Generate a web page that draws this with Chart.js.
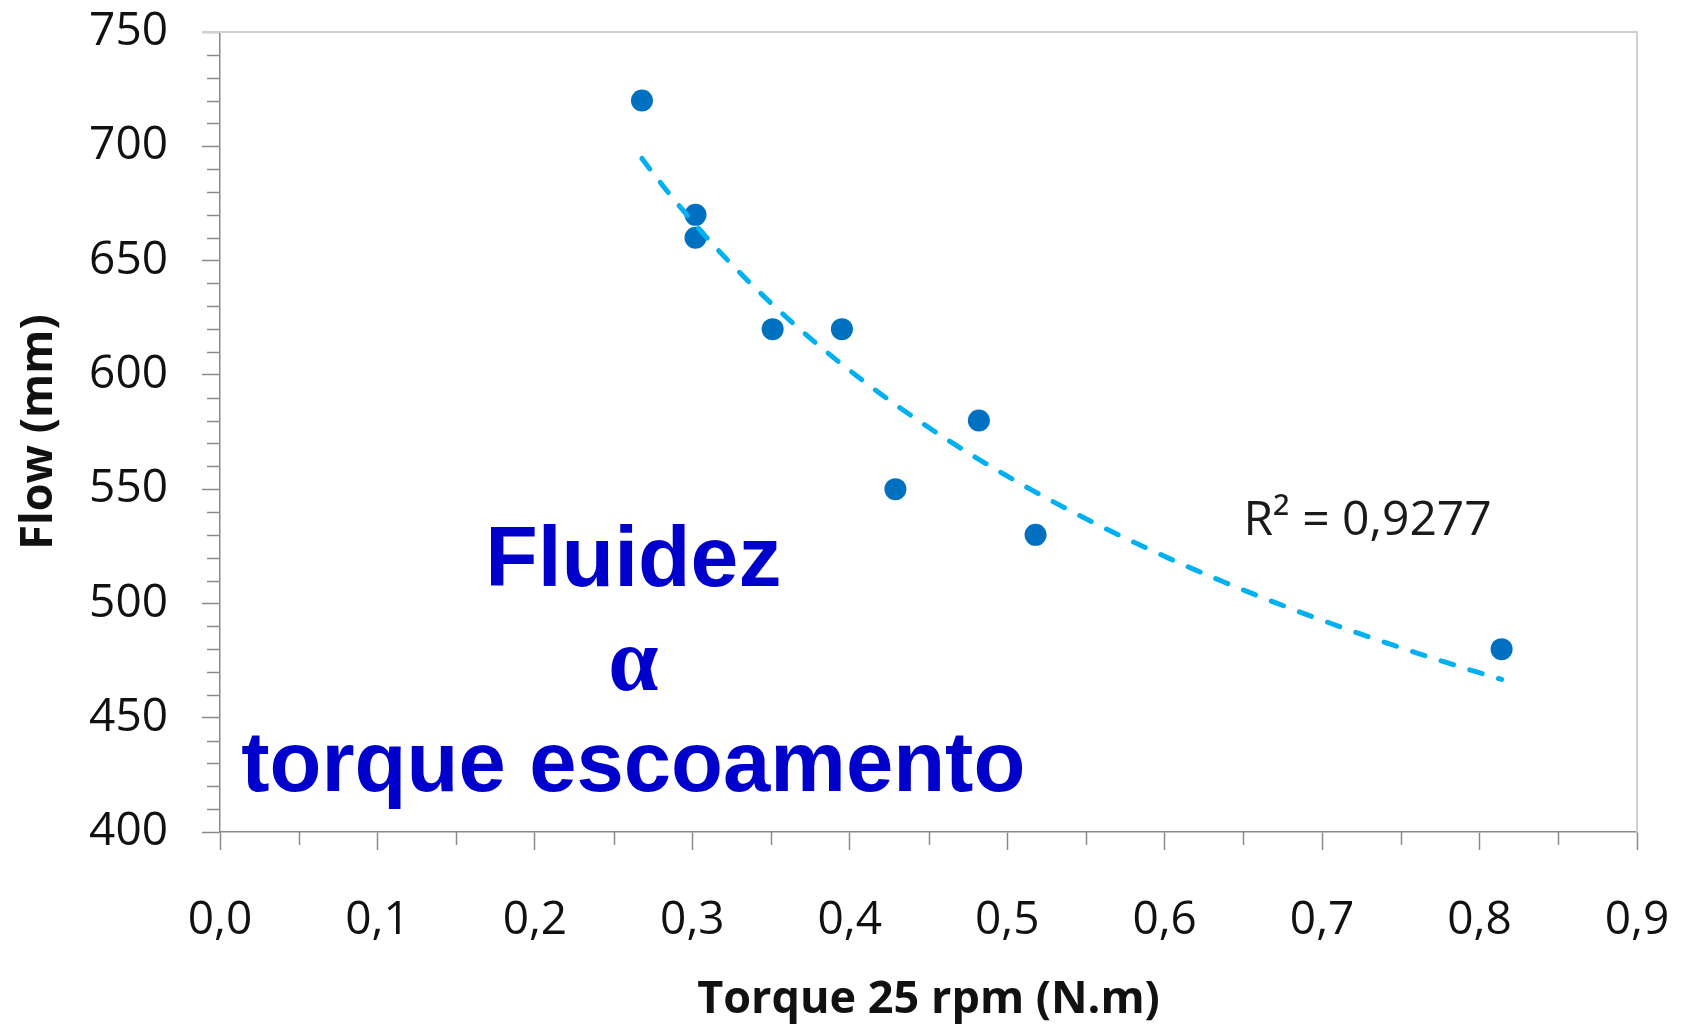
<!DOCTYPE html>
<html>
<head>
<meta charset="utf-8">
<script src="https://cdn.jsdelivr.net/npm/chart.js@4/dist/chart.umd.min.js"></script>
<style>
  html, body { margin: 0; padding: 0; background: #ffffff; }
  #wrap { width: 1688px; height: 1028px; }
</style>
</head>
<body>
<div id="wrap"><canvas id="c" width="1688" height="1028"></canvas></div>
<script>
// ---------------- data ----------------
const torque = [0.268, 0.302, 0.302, 0.351, 0.395, 0.429, 0.482, 0.518, 0.814];
const flow   = [720,   670,   660,   620,   620,   550,   580,   530,   480];
const xTickLabels = ['0,0', '0,1', '0,2', '0,3', '0,4', '0,5', '0,6', '0,7', '0,8', '0,9'];
const yTickLabels = ['400', '450', '500', '550', '600', '650', '700', '750'];
const xTitle = 'Torque 25 rpm (N.m)';
const yTitle = 'Flow (mm)';
const r2Text = 'R\u00B2 = 0,9277';
const noteLines = ['Fluidez', '\u03B1', 'torque escoamento'];

// ---------------- power trendline (least squares on logs) ----------------
function powerFit(xs, ys) {
  const n = xs.length;
  let sx = 0, sy = 0, sxx = 0, sxy = 0;
  for (let i = 0; i < n; i++) {
    const lx = Math.log(xs[i]), ly = Math.log(ys[i]);
    sx += lx; sy += ly; sxx += lx * lx; sxy += lx * ly;
  }
  const b = (n * sxy - sx * sy) / (n * sxx - sx * sx);
  const a = Math.exp((sy - b * sx) / n);
  return { a, b };
}
const fit = powerFit(torque, flow);
const xMin = Math.min(...torque), xMax = Math.max(...torque);
const trendPts = [];
const SAMPLES = 80;
for (let i = 0; i <= SAMPLES; i++) {
  const x = xMin + (xMax - xMin) * i / SAMPLES;
  trendPts.push({ x: x, y: fit.a * Math.pow(x, fit.b) });
}
const scatterPts = torque.map((t, i) => ({ x: t, y: flow[i] }));

// ---------------- styling ----------------
const AXIS_COLOR = '#8a8a8a';
const FRAME_COLOR = '#d0d0d0';
const TICK_FONT = { family: '"Open Sans", "Noto Sans", sans-serif', size: 46, weight: 'normal' };
const TITLE_FONT = { family: '"Open Sans", "Noto Sans", sans-serif', size: 45, weight: 'bold' };
const MAJOR_LEN = 18, MINOR_LEN = 13;

const isMajorX = v => Math.abs(v * 10 - Math.round(v * 10)) < 1e-6;
const isMajorY = v => Math.abs(v / 50 - Math.round(v / 50)) < 1e-6;

// annotation anchors in data units
const notePos = { x: 0.2625, baselines: [507.7, 462.3, 418.1] };
const r2Pos = { x: 0.650, baseline: 530 };

const decorPlugin = {
  id: 'decor',
  afterDraw(chart) {
    const { ctx, chartArea: ca, scales } = chart;
    const xs = scales.x, ys = scales.y;
    ctx.save();
    // frame top & right
    ctx.strokeStyle = FRAME_COLOR;
    ctx.lineWidth = 2;
    ctx.beginPath();
    ctx.moveTo(ca.left - MAJOR_LEN, ca.top);
    ctx.lineTo(ca.right, ca.top);
    ctx.lineTo(ca.right, ca.bottom);
    ctx.stroke();
    // minor ticks
    ctx.strokeStyle = AXIS_COLOR;
    ctx.lineWidth = 1.5;
    ctx.beginPath();
    xs.ticks.forEach(t => {
      if (!isMajorX(t.value)) {
        const px = Math.round(xs.getPixelForValue(t.value)) + 0.5;
        ctx.moveTo(px, ca.bottom);
        ctx.lineTo(px, ca.bottom + MINOR_LEN);
      }
    });
    ys.ticks.forEach(t => {
      if (!isMajorY(t.value)) {
        const py = Math.round(ys.getPixelForValue(t.value)) + 0.5;
        ctx.moveTo(ca.left, py);
        ctx.lineTo(ca.left - MINOR_LEN, py);
      }
    });
    ctx.stroke();

    // R² label
    ctx.fillStyle = '#1a1a1a';
    ctx.font = 'normal 48px "Open Sans", "Noto Sans", sans-serif';
    ctx.textAlign = 'left';
    ctx.textBaseline = 'alphabetic';
    ctx.fillText(r2Text, xs.getPixelForValue(r2Pos.x), ys.getPixelForValue(r2Pos.baseline));

    // blue note
    ctx.fillStyle = '#0000CC';
    ctx.textAlign = 'center';
    const cx = xs.getPixelForValue(notePos.x);
    const fonts = [
      'bold 86px "Liberation Sans", Arial, sans-serif',
      'bold 90px "Liberation Serif", "Times New Roman", serif',
      'bold 85px "Liberation Sans", Arial, sans-serif'
    ];
    noteLines.forEach((line, i) => {
      ctx.font = fonts[i];
      ctx.fillText(line, cx, ys.getPixelForValue(notePos.baselines[i]));
    });
    ctx.restore();
  }
};

new Chart(document.getElementById('c'), {
  type: 'scatter',
  data: {
    datasets: [
      {
        label: 'trend',
        data: trendPts,
        showLine: true,
        borderColor: '#00B0F0',
        borderWidth: 5,
        borderDash: [13, 17],
        borderCapStyle: 'round',
        pointRadius: 0,
        pointHoverRadius: 0,
        tension: 0,
        fill: false,
        order: 0
      },
      {
        label: 'Flow',
        data: scatterPts,
        backgroundColor: '#0070C0',
        borderColor: '#0070C0',
        borderWidth: 0,
        pointRadius: 11,
        pointHoverRadius: 11,
        order: 1
      }
    ]
  },
  options: {
    responsive: false,
    animation: false,
    devicePixelRatio: 1,
    layout: { padding: { left: 0, top: 32, right: 51, bottom: 0 } },
    plugins: {
      legend: { display: false },
      tooltip: { enabled: false },
      title: { display: false }
    },
    scales: {
      x: {
        type: 'linear',
        min: 0, max: 0.9,
        afterFit(scale) {
          scale.height = 196;
          scale.paddingLeft = 0; scale.paddingRight = 0;
        },
        border: { display: true, color: AXIS_COLOR, width: 1.5 },
        grid: {
          drawOnChartArea: false,
          drawTicks: true,
          tickLength: MAJOR_LEN,
          tickWidth: 1.5,
          tickColor: ctx => (ctx.tick && isMajorX(ctx.tick.value)) ? AXIS_COLOR : 'rgba(0,0,0,0)'
        },
        ticks: {
          stepSize: 0.05,
          maxTicksLimit: 100,
          autoSkip: false,
          maxRotation: 0,
          padding: 43,
          color: '#111111',
          font: TICK_FONT,
          callback: v => isMajorX(v) ? xTickLabels[Math.round(v * 10)] : ''
        },
        title: {
          display: true,
          text: xTitle,
          color: '#111111',
          font: TITLE_FONT,
          padding: { top: 0, bottom: 1 }
        }
      },
      y: {
        type: 'linear',
        min: 400, max: 750,
        afterFit(scale) {
          scale.width = 220;
          scale.paddingTop = 0; scale.paddingBottom = 0;
        },
        border: { display: true, color: AXIS_COLOR, width: 1.5 },
        grid: {
          drawOnChartArea: false,
          drawTicks: true,
          tickLength: MAJOR_LEN,
          tickWidth: 1.5,
          tickColor: ctx => (ctx.tick && isMajorY(ctx.tick.value)) ? AXIS_COLOR : 'rgba(0,0,0,0)'
        },
        ticks: {
          stepSize: 10,
          maxTicksLimit: 100,
          autoSkip: false,
          padding: 34,
          color: '#111111',
          font: TICK_FONT,
          callback: v => isMajorY(v) ? yTickLabels[Math.round((v - 400) / 50)] : ''
        },
        title: {
          display: true,
          text: yTitle,
          color: '#111111',
          font: TITLE_FONT,
          padding: { top: 12, bottom: 0 }
        }
      }
    }
  },
  plugins: [decorPlugin]
});
</script>
</body>
</html>
